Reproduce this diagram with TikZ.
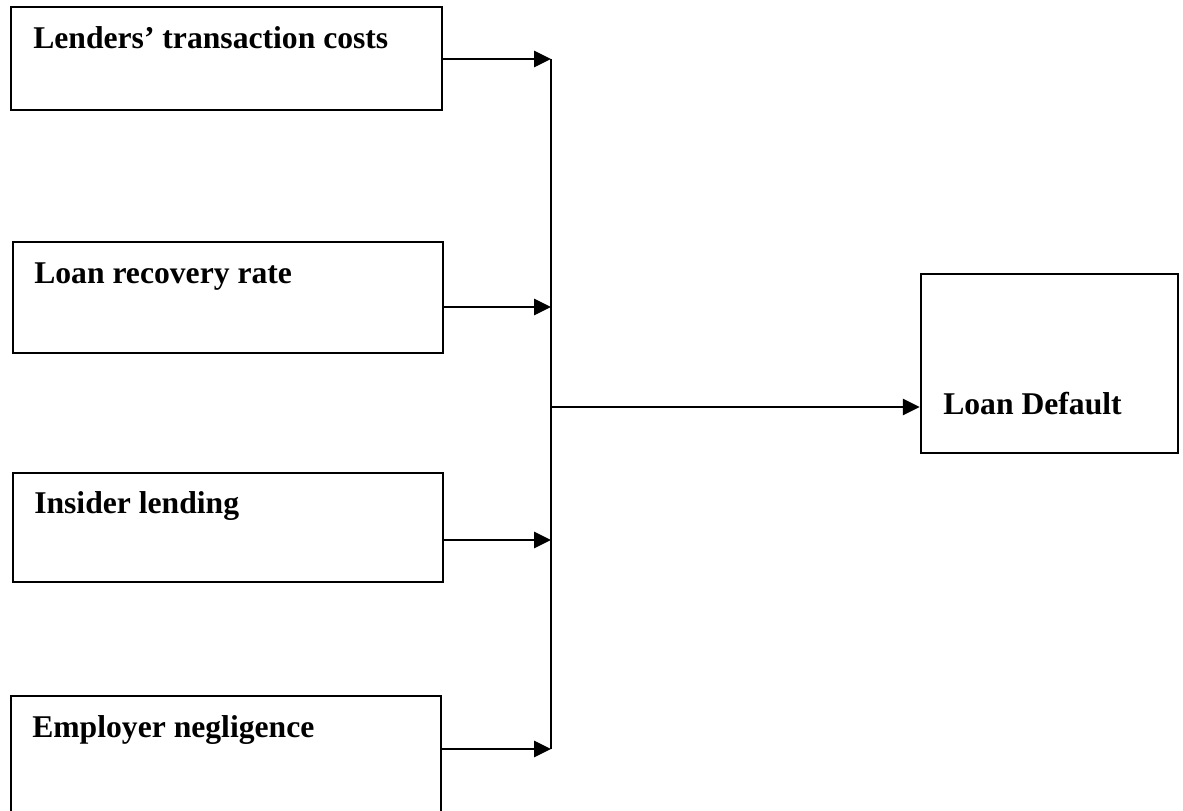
\documentclass[tikz,border=0pt]{standalone}
\usepackage{fontspec}
\setmainfont{Liberation Serif}
\usetikzlibrary{arrows.meta}

\begin{document}
\begin{tikzpicture}[x=0.025cm,y=-0.025cm,line width=1.8pt,
    box/.style={draw,inner sep=0pt,minimum width=10.75cm},
    lbl/.style={anchor=base west,inner sep=0pt,font=\bfseries\fontsize{22.5}{27}\selectfont},
    arr/.style={-{Triangle[length=0.42cm,width=0.4cm]}}]
    \clip (0,0) rectangle (1183,810);
    % factors
    \node[box,minimum width=10.775cm,minimum height=2.575cm] (ltc) at (226.5,58.5) {};
    \node[box,minimum height=2.775cm] (lrr) at (228,297.5) {};
    \node[box,minimum height=2.725cm] (ins) at (228,527.5) {};
    \node[box,minimum height=3.25cm] (emp) at (226,761) {};
    \node[box,minimum width=6.425cm,minimum height=4.475cm] (dft) at (1049.5,363.5) {};

    \node[lbl] (ltct) at (32,48) {Lenders’ transaction costs};
    \node[lbl] (lrrt) at (33,283) {Loan recovery rate};
    \node[lbl] (inst) at (33,513) {Insider lending};
    \node[lbl] (empt) at (31,737) {Employer negligence};
    \node[lbl] (dftt) at (942,414) {Loan Default};

    % collecting line
    \coordinate (b1) at (551,59);
    \coordinate (b2) at (551,307);
    \coordinate (b3) at (551,540);
    \coordinate (b4) at (551,749);
    \coordinate (jn) at (551,407);
    \draw (b1) -- (b4);

    \draw[arr] (ltc.east |- b1) -- (b1);
    \draw[arr] (lrr.east |- b2) -- (b2);
    \draw[arr] (ins.east |- b3) -- (b3);
    \draw[arr] (emp.east |- b4) -- (b4);
    \draw[arr] (jn) -- (dft.west |- jn);
\end{tikzpicture}
\end{document}
